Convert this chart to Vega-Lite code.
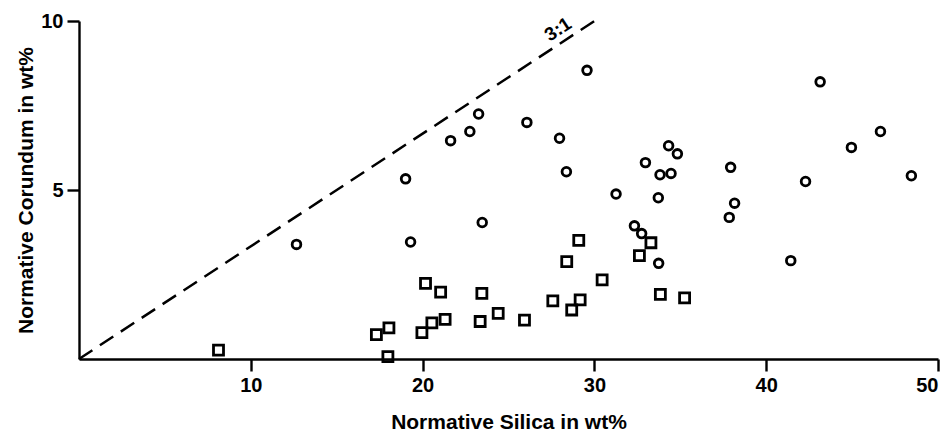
{
  "$schema": "https://vega.github.io/schema/vega-lite/v6.json",
  "width": 859,
  "height": 338,
  "autosize": {"type": "none"},
  "padding": {"left": 79, "top": 21, "right": 14, "bottom": 75},
  "background": "white",
  "config": {
    "view": {"stroke": null},
    "axis": {
      "grid": false,
      "domainColor": "black",
      "domainWidth": 2.4,
      "tickColor": "black",
      "tickWidth": 2.4,
      "tickSize": 12,
      "labelPadding": 4,
      "labelFont": "Liberation Sans",
      "labelFontWeight": "bold",
      "labelFontSize": 20,
      "labelColor": "black",
      "titleFont": "Liberation Sans",
      "titleFontWeight": "bold",
      "titleFontSize": 21,
      "titleColor": "black"
    }
  },
  "datasets": {
    "pts": [
      {"silica": 12.66, "corundum": 3.39, "group": "circle"},
      {"silica": 19.01, "corundum": 5.33, "group": "circle"},
      {"silica": 19.30, "corundum": 3.46, "group": "circle"},
      {"silica": 21.63, "corundum": 6.46, "group": "circle"},
      {"silica": 22.75, "corundum": 6.73, "group": "circle"},
      {"silica": 23.26, "corundum": 7.25, "group": "circle"},
      {"silica": 23.47, "corundum": 4.04, "group": "circle"},
      {"silica": 26.07, "corundum": 7.0, "group": "circle"},
      {"silica": 27.97, "corundum": 6.53, "group": "circle"},
      {"silica": 28.37, "corundum": 5.54, "group": "circle"},
      {"silica": 29.57, "corundum": 8.54, "group": "circle"},
      {"silica": 31.26, "corundum": 4.88, "group": "circle"},
      {"silica": 32.33, "corundum": 3.94, "group": "circle"},
      {"silica": 32.75, "corundum": 3.71, "group": "circle"},
      {"silica": 32.97, "corundum": 5.81, "group": "circle"},
      {"silica": 33.72, "corundum": 4.77, "group": "circle"},
      {"silica": 33.74, "corundum": 2.83, "group": "circle"},
      {"silica": 33.82, "corundum": 5.45, "group": "circle"},
      {"silica": 34.32, "corundum": 6.31, "group": "circle"},
      {"silica": 34.46, "corundum": 5.49, "group": "circle"},
      {"silica": 34.83, "corundum": 6.07, "group": "circle"},
      {"silica": 37.85, "corundum": 4.19, "group": "circle"},
      {"silica": 37.93, "corundum": 5.67, "group": "circle"},
      {"silica": 38.16, "corundum": 4.61, "group": "circle"},
      {"silica": 41.43, "corundum": 2.91, "group": "circle"},
      {"silica": 42.29, "corundum": 5.25, "group": "circle"},
      {"silica": 43.14, "corundum": 8.20, "group": "circle"},
      {"silica": 44.96, "corundum": 6.26, "group": "circle"},
      {"silica": 46.65, "corundum": 6.73, "group": "circle"},
      {"silica": 48.45, "corundum": 5.42, "group": "circle"},
      {"silica": 8.12, "corundum": 0.26, "group": "square"},
      {"silica": 17.31, "corundum": 0.72, "group": "square"},
      {"silica": 17.98, "corundum": 0.07, "group": "square"},
      {"silica": 18.04, "corundum": 0.92, "group": "square"},
      {"silica": 19.96, "corundum": 0.78, "group": "square"},
      {"silica": 20.17, "corundum": 2.24, "group": "square"},
      {"silica": 20.54, "corundum": 1.07, "group": "square"},
      {"silica": 21.05, "corundum": 1.98, "group": "square"},
      {"silica": 21.31, "corundum": 1.17, "group": "square"},
      {"silica": 23.35, "corundum": 1.11, "group": "square"},
      {"silica": 23.45, "corundum": 1.94, "group": "square"},
      {"silica": 24.40, "corundum": 1.35, "group": "square"},
      {"silica": 25.93, "corundum": 1.15, "group": "square"},
      {"silica": 27.58, "corundum": 1.72, "group": "square"},
      {"silica": 28.39, "corundum": 2.88, "group": "square"},
      {"silica": 28.68, "corundum": 1.45, "group": "square"},
      {"silica": 29.09, "corundum": 3.51, "group": "square"},
      {"silica": 29.17, "corundum": 1.75, "group": "square"},
      {"silica": 30.45, "corundum": 2.34, "group": "square"},
      {"silica": 32.62, "corundum": 3.06, "group": "square"},
      {"silica": 33.29, "corundum": 3.44, "group": "square"},
      {"silica": 33.84, "corundum": 1.91, "group": "square"},
      {"silica": 35.25, "corundum": 1.81, "group": "square"}
    ],
    "refline": [
      {"x": 0, "y": 0, "x2": 30, "y2": 10}
    ],
    "reflabel": [
      {"x": 28.3, "y": 9.43, "label": "3:1"}
    ]
  },
  "layer": [
    {
      "data": {"name": "refline"},
      "mark": {"type": "rule", "color": "black", "strokeWidth": 2.5, "strokeDash": [16, 9]},
      "encoding": {
        "x": {"field": "x", "type": "quantitative", "scale": {"domain": [0, 50]},
          "axis": {"values": [10, 20, 30, 40, 50], "title": "Normative Silica in wt%", "titlePadding": 16}},
        "y": {"field": "y", "type": "quantitative", "scale": {"domain": [0, 10]},
          "axis": {"values": [5, 10], "title": "Normative Corundum in wt%", "titlePadding": 4}},
        "x2": {"field": "x2"},
        "y2": {"field": "y2"}
      }
    },
    {
      "data": {"name": "reflabel"},
      "mark": {"type": "text", "angle": 327, "align": "center", "baseline": "bottom", "dy": -3, "font": "Liberation Sans", "fontWeight": "bold", "fontSize": 19, "color": "black"},
      "encoding": {
        "x": {"field": "x", "type": "quantitative"},
        "y": {"field": "y", "type": "quantitative"},
        "text": {"field": "label"}
      }
    },
    {
      "data": {"name": "pts"},
      "mark": {"type": "point", "filled": false, "color": "black", "strokeWidth": 2.8, "opacity": 1},
      "encoding": {
        "x": {"field": "silica", "type": "quantitative"},
        "y": {"field": "corundum", "type": "quantitative"},
        "shape": {"field": "group", "type": "nominal", "scale": {"domain": ["circle", "square"], "range": ["circle", "square"]}, "legend": null},
        "size": {"field": "group", "type": "nominal", "scale": {"domain": ["circle", "square"], "range": [75, 100]}, "legend": null}
      }
    }
  ]
}
